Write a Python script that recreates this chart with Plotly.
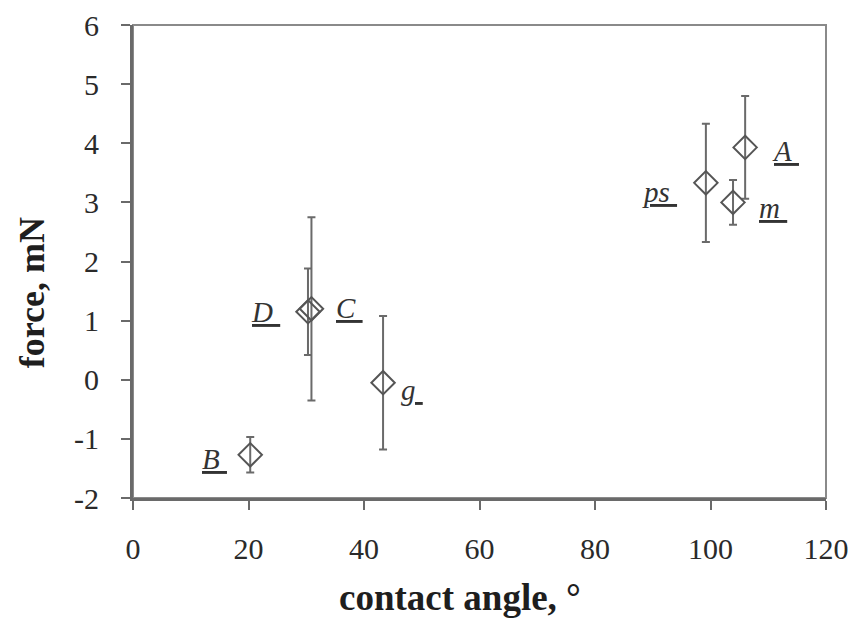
import plotly.graph_objects as go

# Data
names = ["B", "D", "C", "g", "ps", "m", "A"]
contact_angle = [20.3, 30.3, 30.9, 43.3, 99.2, 103.9, 106.0]
force = [-1.27, 1.15, 1.2, -0.05, 3.33, 3.0, 3.93]
force_err = [0.3, 0.73, 1.55, 1.13, 1.0, 0.38, 0.87]

x_ticks = [0, 20, 40, 60, 80, 100, 120]
y_ticks = [-2, -1, 0, 1, 2, 3, 4, 5, 6]
x_title = "contact angle, °"
y_title = "force, mN"

# label offsets in pixels (style)
label_shift = {"B": (-36, -4), "D": (-42, 0), "C": (38, 1), "g": (29, -7),
               "ps": (-46, -9), "m": (40, -6), "A": (40, -4)}

gray = "#6a6a6a"
fig = go.Figure()
fig.add_trace(go.Scatter(
    x=contact_angle, y=force, mode="markers",
    marker=dict(symbol="diamond-open", size=18, color="#555555", line=dict(width=2, color="#555555")),
    error_y=dict(type="data", array=force_err, visible=True, color=gray, thickness=2, width=4),
    showlegend=False,
))

for n, xv, yv in zip(names, contact_angle, force):
    dx, dy = label_shift[n]
    fig.add_annotation(x=xv, y=yv, text="<u><i>" + n + "\u00a0</i></u>", showarrow=False,
                       xshift=dx, yshift=dy,
                       font=dict(family="Liberation Serif", size=29, color="#333333"))

axis_common = dict(showline=True, linecolor=gray, linewidth=3, mirror=False,
                   ticks="outside", tickcolor=gray, tickwidth=2, ticklen=9,
                   showgrid=False, zeroline=False, automargin=False,
                   tickfont=dict(family="Liberation Serif", size=30, color="#2a2a2a"))

fig.update_xaxes(range=[0, 120], tickvals=x_ticks, ticktext=[str(v) for v in x_ticks],
                 ticklabelstandoff=13, **axis_common)
fig.update_yaxes(range=[-2, 6], tickvals=y_ticks, ticktext=[str(v) for v in y_ticks],
                 ticklabelstandoff=16, **axis_common)

# axis titles
fig.add_annotation(xref="paper", yref="paper", x=0.472, y=-0.211, xanchor="center", yanchor="middle",
                   text="<b>" + x_title + "</b>", showarrow=False,
                   font=dict(family="Liberation Serif", size=37, color="#1e1e1e"))
fig.add_annotation(xref="paper", yref="paper", x=-0.1457, y=0.433, xanchor="center", yanchor="middle",
                   text="<b>" + y_title + "</b>", showarrow=False, textangle=-90,
                   font=dict(family="Liberation Serif", size=36, color="#1e1e1e"))

# top and right border of plot area
fig.add_shape(type="rect", xref="paper", yref="paper", x0=0, y0=0, x1=1, y1=1,
              line=dict(color="#8a8a8a", width=2), layer="below")

# page body has an 8px margin, so the figure is 8px smaller
fig.update_layout(width=853, height=613, plot_bgcolor="white", paper_bgcolor="white",
                  margin=dict(l=125, r=35, t=17, b=123))

fig.write_html("out.html")
